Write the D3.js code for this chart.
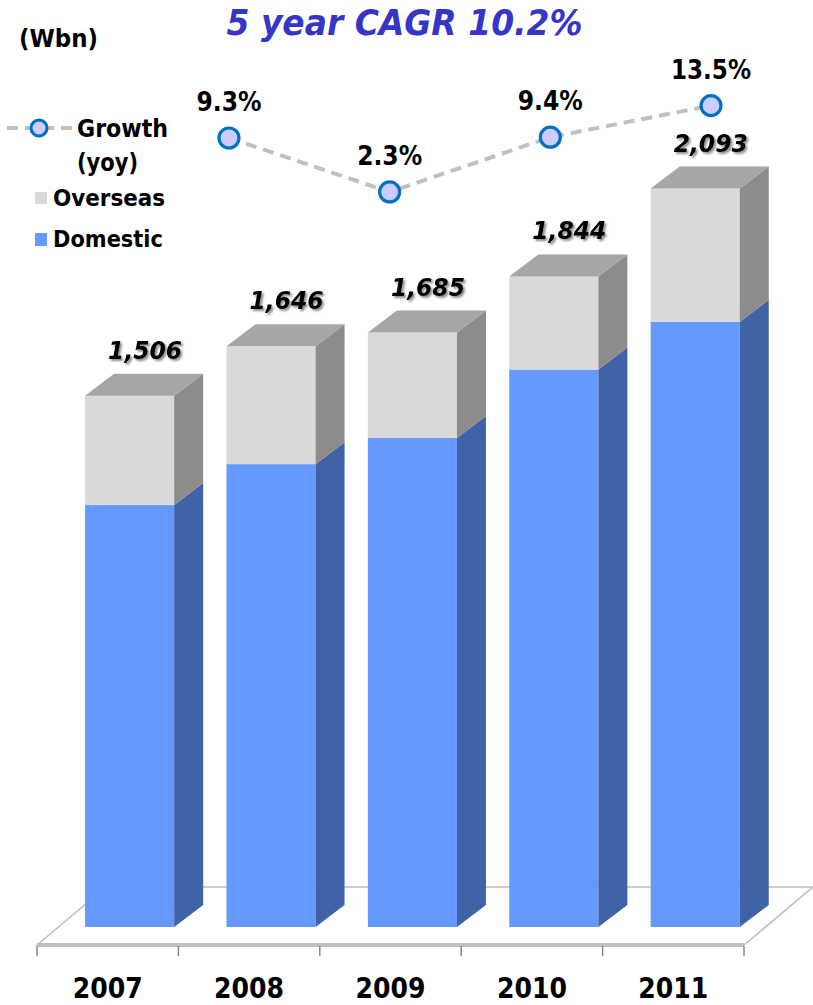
<!DOCTYPE html>
<html>
<head>
<meta charset="utf-8">
<script src="https://cdn.jsdelivr.net/npm/d3@7/dist/d3.min.js"></script>
<style>
  html, body { margin: 0; padding: 0; background: #fff; }
  svg { display: block; }
  text { font-family: "DejaVu Sans", Verdana, sans-serif; }
</style>
</head>
<body>
<svg id="chart" width="813" height="1005"></svg>
<script>
// Sales by year (Wbn), stacked: domestic + overseas
const years = ["2007", "2008", "2009", "2010", "2011"];
const domestic = [1196, 1312, 1386, 1580, 1715];
const overseas = [310, 334, 299, 264, 378];
const totals = [1506, 1646, 1685, 1844, 2093];
const totalLabels = ["1,506", "1,646", "1,685", "1,844", "2,093"];

// Year-on-year growth (%)
const growthYears = ["2008", "2009", "2010", "2011"];
const growth = [9.3, 2.3, 9.4, 13.5];
const growthLabels = ["9.3%", "2.3%", "9.4%", "13.5%"];

const svg = d3.select("#chart");

const colors = {
  domFront: "#6699ff", domSide: "#4062a6",
  ovsFront: "#d9d9d9", ovsSide: "#8c8c8c", top: "#a6a6a6"
};

// 3D depth offset for the bar boxes and for the floor
const depth = { dx: 29, dy: -22 };
const floorDepth = { dx: 69, dy: -58 };

// Category band along the front edge of the floor
const x = d3.scaleBand().domain(years).range([37, 744]).padding(0);
const floorY = 945;
const baseY = 927;
const y = d3.scaleLinear().domain([0, 2100]).range([baseY, baseY - 0.3528 * 2100]);

// Narrow bold text helper: fixes rendered width
function fit(sel, w) {
  return sel.attr("textLength", w).attr("lengthAdjust", "spacingAndGlyphs");
}

// Drop shadow for the value labels
const defs = svg.append("defs");
const f = defs.append("filter").attr("id", "shadow").attr("x", "-20%").attr("y", "-20%")
  .attr("width", "150%").attr("height", "160%");
f.append("feDropShadow").attr("dx", 2).attr("dy", 2).attr("stdDeviation", 1.3)
  .attr("flood-color", "#000").attr("flood-opacity", 0.45);

// ---- Floor ----
const fl = svg.append("g");
const x0 = x.range()[0], x1 = x.range()[1];
fl.append("path")
  .attr("d", `M${x0},${floorY} L${x0 + floorDepth.dx},${floorY + floorDepth.dy} L${x1 + floorDepth.dx},${floorY + floorDepth.dy} L${x1},${floorY} Z`)
  .attr("fill", "#fff").attr("stroke", "#bdbdbd").attr("stroke-width", 1.6);
fl.append("line").attr("x1", x0).attr("x2", x1).attr("y1", floorY).attr("y2", floorY)
  .attr("stroke", "#c0c0c0").attr("stroke-width", 4);
// boundary ticks between categories
const edges = years.map(d => x(d)).concat([x1]);
fl.selectAll("line.tick").data(edges).join("line")
  .attr("class", "tick")
  .attr("x1", d => d).attr("x2", d => d)
  .attr("y1", floorY + 1).attr("y2", floorY + 11)
  .attr("stroke", "#808080").attr("stroke-width", 1.4);

// Category labels
const xAxis = svg.append("g")
  .attr("transform", `translate(0,${floorY})`)
  .call(d3.axisBottom(x).tickSize(0).tickPadding(33));
xAxis.select(".domain").remove();
xAxis.selectAll("text")
  .attr("font-family", "DejaVu Sans, sans-serif")
  .attr("font-size", 28).attr("font-weight", "bold").attr("fill", "#000")
  .attr("dy", "0.7em")
  .attr("textLength", 70).attr("lengthAdjust", "spacingAndGlyphs");

// ---- 3D stacked bars ----
const barOff = x.bandwidth() * 0.34;
const barW = x.bandwidth() * 0.63;

function box(g, left, right, yBot, yTop, front, side) {
  g.append("rect").attr("x", left).attr("y", yTop)
    .attr("width", right - left).attr("height", yBot - yTop).attr("fill", front);
  g.append("path")
    .attr("d", `M${right},${yBot} L${right},${yTop} L${right + depth.dx},${yTop + depth.dy} L${right + depth.dx},${yBot + depth.dy} Z`)
    .attr("fill", side);
}

const bars = svg.append("g");
years.forEach((yr, i) => {
  const g = bars.append("g");
  const left = x(yr) + barOff, right = left + barW;
  const yDom = y(domestic[i]);
  const yTot = y(domestic[i] + overseas[i]);
  box(g, left, right, y(0), yDom, colors.domFront, colors.domSide);
  box(g, left, right, yDom, yTot, colors.ovsFront, colors.ovsSide);
  g.append("path")
    .attr("d", `M${left},${yTot} L${left + depth.dx},${yTot + depth.dy} L${right + depth.dx},${yTot + depth.dy} L${right},${yTot} Z`)
    .attr("fill", colors.top);
  // total value label
  fit(svg.append("text")
    .attr("x", (left + right) / 2 + depth.dx / 2 + 1)
    .attr("y", y(totals[i]) + depth.dy - 15)
    .attr("text-anchor", "middle")
    .attr("font-size", 25).attr("font-weight", "bold").attr("font-style", "italic")
    .attr("fill", "#000").attr("filter", "url(#shadow)")
    .text(totalLabels[i]), 74);
});

// ---- Growth line ----
const gx = d3.scalePoint().domain(years).range([68.3, 711]);
const gy = d3.scaleLinear().domain([0, 13.5]).range([209.7, 105.6]);
const gData = growthYears.map((d, i) => ({ year: d, v: growth[i], label: growthLabels[i] }));

svg.append("path")
  .datum(gData)
  .attr("d", d3.line().x(d => gx(d.year)).y(d => gy(d.v)))
  .attr("fill", "none").attr("stroke", "#c0c0c0").attr("stroke-width", 4)
  .attr("stroke-dasharray", "11,7");

svg.selectAll("circle.pt").data(gData).join("circle")
  .attr("class", "pt")
  .attr("cx", d => gx(d.year)).attr("cy", d => gy(d.v)).attr("r", 10)
  .attr("fill", "#ccccff").attr("stroke", "#0070c0").attr("stroke-width", 3.2);

svg.selectAll("text.glab").data(gData).join("text")
  .attr("class", "glab")
  .attr("x", d => gx(d.year)).attr("y", d => gy(d.v) - 27)
  .attr("text-anchor", "middle")
  .attr("font-size", 27).attr("font-weight", "bold").attr("fill", "#000")
  .attr("textLength", d => d.label.length === 5 ? 80 : 65)
  .attr("lengthAdjust", "spacingAndGlyphs")
  .text(d => d.label);

// ---- Title and unit ----
svg.append("text")
  .attr("x", 404.5).attr("y", 35)
  .attr("text-anchor", "middle")
  .attr("font-size", 35).attr("font-weight", "bold").attr("font-style", "italic")
  .attr("fill", "#3535c8")
  .attr("textLength", 356).attr("lengthAdjust", "spacingAndGlyphs")
  .text("5 year CAGR 10.2%");

fit(svg.append("text")
  .attr("x", 19).attr("y", 47)
  .attr("font-size", 24).attr("font-weight", "bold").attr("fill", "#000")
  .text("(Wbn)"), 79);

// ---- Legend ----
const lg = svg.append("g");
lg.append("line").attr("x1", 7).attr("x2", 72).attr("y1", 128).attr("y2", 128)
  .attr("stroke", "#c0c0c0").attr("stroke-width", 4).attr("stroke-dasharray", "11,7");
lg.append("circle").attr("cx", 39).attr("cy", 128).attr("r", 8)
  .attr("fill", "#ccccff").attr("stroke", "#0070c0").attr("stroke-width", 3);
fit(lg.append("text").attr("x", 77).attr("y", 137).attr("font-size", 24).attr("font-weight", "bold").text("Growth"), 91);
fit(lg.append("text").attr("x", 77).attr("y", 171).attr("font-size", 24).attr("font-weight", "bold").text("(yoy)"), 61);
lg.append("rect").attr("x", 35).attr("y", 192).attr("width", 12).attr("height", 12).attr("fill", colors.ovsFront);
fit(lg.append("text").attr("x", 53).attr("y", 206).attr("font-size", 23).attr("font-weight", "bold").text("Overseas"), 112);
lg.append("rect").attr("x", 35).attr("y", 233).attr("width", 12).attr("height", 13).attr("fill", colors.domFront);
fit(lg.append("text").attr("x", 53).attr("y", 247).attr("font-size", 23).attr("font-weight", "bold").text("Domestic"), 110);
</script>
</body>
</html>
